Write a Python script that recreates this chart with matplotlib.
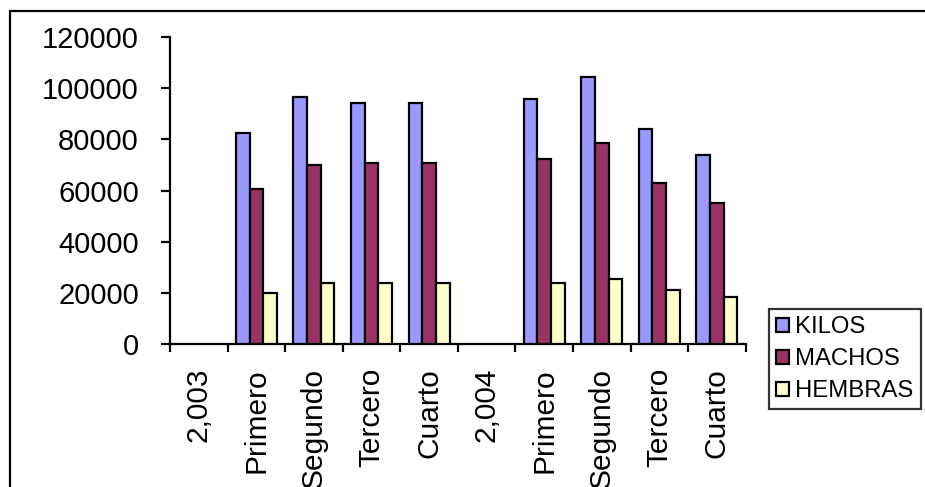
import numpy as np
import matplotlib
matplotlib.use("Agg")
import matplotlib.pyplot as plt
from matplotlib.patches import Rectangle

plt.rcParams['font.family'] = ['Liberation Sans', 'DejaVu Sans']

categories = ["2,003", "Primero", "Segundo", "Tercero", "Cuarto",
              "2,004", "Primero", "Segundo", "Tercero", "Cuarto"]
kilos   = [np.nan, 82500, 96600, 94300, 94300, np.nan, 95700, 104400, 84100, 73900]
machos  = [np.nan, 60700, 70000, 70700, 70700, np.nan, 72400, 78700, 63000, 55300]
hembras = [np.nan, 20100, 24000, 24000, 24000, np.nan, 24000, 25600, 21000, 18600]
series_names = ["KILOS", "MACHOS", "HEMBRAS"]
colors = ["#9999FF", "#993366", "#FFFFCC"]
yticks = [0, 20000, 40000, 60000, 80000, 100000, 120000]

W, H = 925, 487
fig = plt.figure(figsize=(W / 100, H / 100), dpi=100)
ax = fig.add_axes([170 / W, 1 - 344.3 / H, (745.7 - 170) / W, (344.3 - 36.8) / H])

x = np.arange(len(categories))
bw = 0.238
for i, (vals, name, col) in enumerate(zip([kilos, machos, hembras], series_names, colors)):
    ax.bar(x + (i - 1) * bw, vals, width=bw, color=col, edgecolor="black",
           linewidth=1.6, label=name, zorder=3)

ax.set_xlim(-0.5, len(categories) - 0.5)
ax.set_ylim(0, 120000)
ax.set_yticks(yticks)
ax.set_yticklabels([str(v) for v in yticks], fontsize=21)
ax.set_xticks(x)
ax.set_xticklabels(categories, rotation=90, fontsize=21.5, va="top", ha="center")
ax.tick_params(axis="x", which="major", length=0, pad=17)
ax.set_xticks(np.arange(-0.5, len(categories) + 0.5, 1), minor=True)
ax.tick_params(axis="x", which="minor", length=6, width=1.6, direction="out")
ax.tick_params(axis="y", length=6.5, width=1.6, direction="out", pad=16)
for s in ["top", "right"]:
    ax.spines[s].set_visible(False)
for s in ["left", "bottom"]:
    ax.spines[s].set_linewidth(1.6)

leg = fig.legend(loc="upper left", bbox_to_anchor=(769 / W, 1 - 309 / H),
                 bbox_transform=fig.transFigure, fontsize=17.2, frameon=True,
                 fancybox=False, handlelength=0.55, handleheight=0.55,
                 handletextpad=0.25, borderpad=0.3, labelspacing=0.42,
                 borderaxespad=0)
leg.get_frame().set_edgecolor("black")
leg.get_frame().set_linewidth(1.6)

fig.add_artist(Rectangle((10 / W, -0.1), 1.2, 1 - 11 / H + 0.1,
                         transform=fig.transFigure, fill=False,
                         edgecolor="black", linewidth=1.6, zorder=0))

fig.savefig("out.png", dpi=100)
